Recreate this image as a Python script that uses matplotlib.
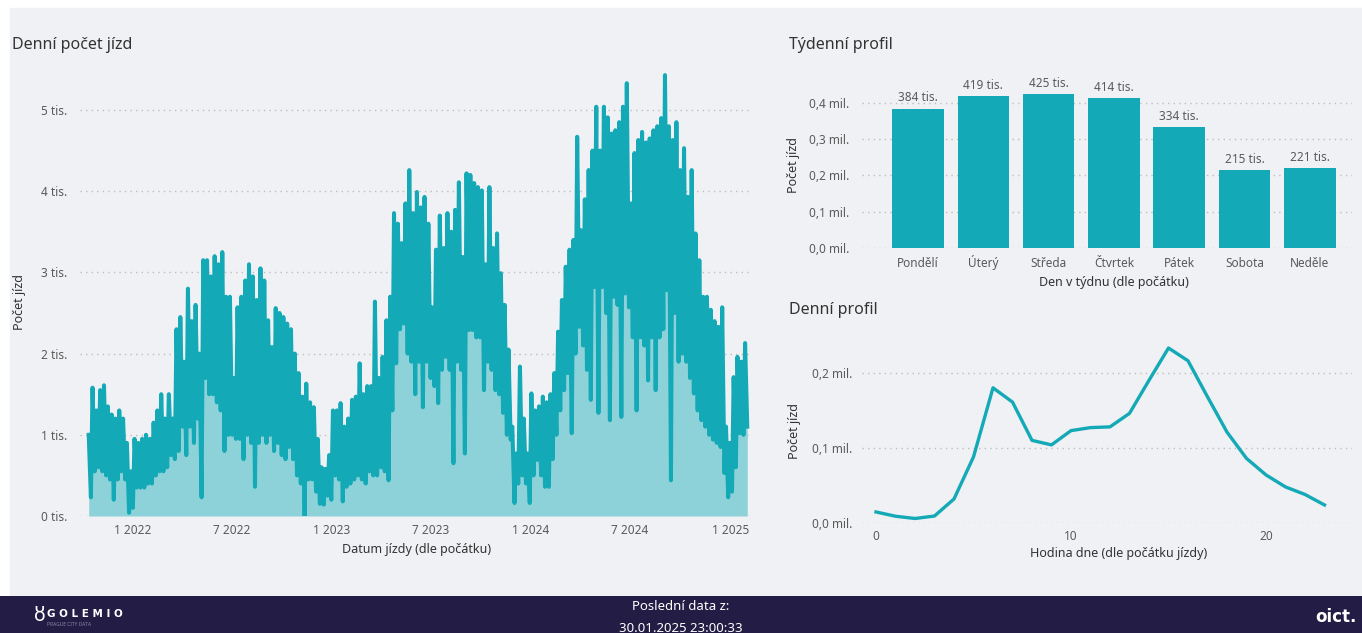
import pandas as pd
import matplotlib
matplotlib.use("Agg")
import matplotlib.pyplot as plt
import matplotlib.dates as mdates
from matplotlib.ticker import FixedLocator, FuncFormatter
from matplotlib.patches import Rectangle

plt.rcParams['font.family'] = ['Noto Sans', 'DejaVu Sans']

# --- data -------------------------------------------------------------
# Denní počet jízd: weekly high (weekday) and low (weekend) in thousands, from 2021-10-11
first_week = "2021-10-11"
week_high_tis = [
    1.0, 1.58, 1.3, 1.55, 1.61, 1.35, 1.25, 1.2, 1.3, 1.2,
    0.9, 0.55, 0.95, 0.9, 0.95, 1.0, 0.95, 1.15, 1.3, 1.5,
    1.2, 1.5, 1.2, 2.3, 2.45, 1.9, 2.8, 2.4, 2.6, 2.0,
    3.15, 3.15, 2.95, 3.2, 3.1, 3.25, 2.7, 2.7, 1.7, 2.57,
    2.7, 2.9, 3.1, 2.95, 2.66, 3.05, 2.9, 2.41, 2.08, 2.56,
    2.5, 2.45, 2.37, 2.3, 2.0, 1.76, 1.47, 1.63, 1.4, 1.34,
    0.95, 0.6, 0.58, 0.75, 1.3, 1.3, 1.39, 1.1, 1.2, 1.43,
    1.47, 1.88, 1.5, 1.6, 1.6, 2.64, 1.7, 1.96, 2.41, 2.7,
    3.73, 3.6, 3.36, 3.85, 4.26, 3.73, 3.99, 3.8, 3.93, 3.6,
    2.57, 3.28, 3.7, 3.3, 3.73, 3.5, 3.77, 4.11, 3.19, 4.22,
    4.2, 4.1, 4.05, 4.01, 3.1, 4.05, 3.3, 3.48, 2.99, 2.6,
    2.05, 1.1, 0.77, 1.84, 1.2, 0.77, 1.51, 1.3, 1.35, 1.47,
    1.4, 1.5, 1.76, 2.27, 2.66, 3.07, 3.28, 3.4, 4.67, 3.52,
    3.9, 4.26, 4.5, 5.04, 4.5, 5.04, 4.91, 4.71, 4.75, 4.85,
    5.04, 5.33, 3.85, 4.47, 4.63, 4.73, 4.6, 4.65, 4.75, 4.8,
    4.9, 5.43, 4.8, 4.63, 4.85, 4.26, 4.53, 3.93, 4.26, 3.48,
    3.15, 2.7, 2.7, 2.54, 2.4, 2.33, 2.57, 1.1, 0.9, 1.71,
    1.96, 1.9, 2.13,
]
week_low_tis = [
    0.23, 0.55, 0.6, 0.55, 0.5, 0.45, 0.2, 0.45, 0.55, 0.45,
    0.04, 0.1, 0.35, 0.35, 0.35, 0.4, 0.4, 0.5, 0.55, 0.55,
    0.6, 0.75, 0.7, 0.8, 1.1, 0.75, 1.1, 0.9, 1.2, 0.23,
    1.7, 1.5, 1.5, 1.4, 1.3, 0.8, 1.0, 1.0, 0.95, 0.95,
    0.7, 1.0, 0.9, 0.36, 0.9, 1.0, 0.9, 1.0, 0.8, 0.9,
    0.75, 0.7, 0.85, 0.7, 0.5, 0.4, 0.0, 0.45, 0.45, 0.3,
    0.15, 0.14, 0.25, 0.2, 0.5, 0.45, 0.18, 0.36, 0.4, 0.45,
    0.5, 0.45, 0.4, 0.55, 0.5, 0.5, 0.6, 0.55, 0.44, 1.3,
    1.88, 2.3, 2.37, 2.0, 1.9, 1.5, 1.9, 1.34, 1.9, 1.7,
    1.6, 1.39, 1.8, 1.96, 1.8, 0.65, 1.9, 1.8, 0.77, 2.29,
    2.29, 2.2, 2.2, 1.55, 1.9, 1.8, 1.55, 1.5, 1.27, 1.0,
    0.94, 0.16, 0.4, 0.5, 0.4, 0.16, 0.5, 0.69, 0.5, 0.36,
    0.36, 0.7, 1.0, 1.3, 1.55, 1.76, 1.02, 2.0, 2.33, 2.1,
    1.8, 1.43, 2.82, 1.27, 2.82, 2.5, 1.18, 2.7, 2.6, 1.22,
    2.74, 2.57, 2.2, 1.3, 2.2, 2.1, 1.67, 2.2, 1.55, 2.2,
    2.3, 2.78, 0.44, 2.5, 1.9, 2.0, 1.9, 1.7, 1.51, 1.3,
    1.18, 1.1, 1.0, 0.94, 0.9, 0.85, 0.53, 0.23, 0.3, 0.6,
    1.02, 1.0, 1.1,
]

# Týdenní profil (tis.)
days = ["Pondělí", "Úterý", "Středa", "Čtvrtek", "Pátek", "Sobota", "Neděle"]
day_tis = [384, 419, 425, 414, 334, 215, 221]

# Denní profil: rides by hour (tis.)
hours = list(range(24))
hour_tis = [14.7, 9, 6, 9.3, 32, 88, 180, 161, 110, 104, 123, 127,
            128, 146, 190, 233, 216, 168, 121, 86, 64, 48, 38, 24]

# --- style ------------------------------------------------------------
W, H = 1362, 633
BG = "#eff1f4"
TEAL = "#13a9b6"
FILL = "#8ed2d9"
TXT = "#333333"
TICK = "#5a5a5a"
GRID = "#bdbdbd"


def cz(v, d=1):
    return f"{v:.{d}f}".replace(".", ",")


def px_axes(l, r, b, t):
    # pixel box -> figure fraction
    return fig.add_axes([l / W, (H - b) / H, (r - l) / W, (b - t) / H])


def style(ax):
    ax.set_facecolor("none")
    for s in ax.spines.values():
        s.set_visible(False)
    ax.tick_params(length=0, colors=TICK, labelsize=8.5)
    ax.grid(axis="y", linestyle=(0, (1, 3)), color=GRID, linewidth=1)
    ax.set_axisbelow(True)


fig = plt.figure(figsize=(W / 100, H / 100), dpi=100, facecolor="white")
fig.patches.append(Rectangle((10 / W, 37 / H), 1 - 10 / W, (596 - 8) / H,
                             transform=fig.transFigure, color=BG, zorder=-10))

# --- Denní počet jízd ---------------------------------------------------
wk = pd.date_range(first_week, periods=len(week_high_tis), freq="7D")
dates, vals = [], []
for d, hi, lo in zip(wk, week_high_tis, week_low_tis):
    dates += [d + pd.Timedelta(days=1), d + pd.Timedelta(days=5)]
    vals += [hi, lo]

ax1 = px_axes(80, 750, 516, 69.4)
style(ax1)
ax1.fill_between(dates, vals, 0, color=FILL, linewidth=0)
ax1.plot(dates, vals, color=TEAL, linewidth=2.9, solid_joinstyle="round")
ax1.set_xlim(pd.Timestamp("2021-09-26"), pd.Timestamp("2025-02-06"))
ax1.set_ylim(0, 5.5)
ax1.yaxis.set_major_locator(FixedLocator([0, 1, 2, 3, 4, 5]))
ax1.yaxis.set_major_formatter(FuncFormatter(lambda v, p: f"{int(round(v))} tis."))
ax1.xaxis.set_major_locator(mdates.MonthLocator(bymonth=[1, 7]))
ax1.xaxis.set_major_formatter(FuncFormatter(
    lambda v, p: f"{mdates.num2date(v).month} {mdates.num2date(v).year}"))
ax1.tick_params(axis="y", pad=9)
ax1.tick_params(axis="x", pad=6)
ax1.set_xlabel("Datum jízdy (dle počátku)", color=TXT, fontsize=9)
ax1.xaxis.set_label_coords(0.503, -0.075)
ax1.xaxis.label.set_va("center")
ax1.set_ylabel("Počet jízd", color=TXT, fontsize=9)
ax1.yaxis.set_label_coords(-0.09, 0.48)
ax1.yaxis.label.set_va("center")
fig.text(12 / W, 1 - 45 / H, "Denní počet jízd", fontsize=11.5, color=TXT, va="center")

# --- Týdenní profil -----------------------------------------------------
ax2 = px_axes(862, 1352, 248, 77.6)
style(ax2)
xs = list(range(len(days)))
ax2.bar(xs, day_tis, width=0.79, color=TEAL)
for x, v in zip(xs, day_tis):
    ax2.text(x, v + 12, f"{v} tis.", ha="center", va="bottom", fontsize=8.5, color=TICK)
ax2.set_xlim(-0.858, 6.646)
ax2.set_ylim(0, 470)
ax2.yaxis.set_major_locator(FixedLocator([0, 100, 200, 300, 400]))
ax2.yaxis.set_major_formatter(FuncFormatter(lambda v, p: f"{cz(v / 1000)} mil."))
ax2.set_xticks(xs)
ax2.set_xticklabels(days)
for lab in ax2.get_xticklabels():
    lab.set_va("baseline")
ax2.tick_params(axis="y", pad=9)
ax2.tick_params(axis="x", pad=14)
ax2.set_xlabel("Den v týdnu (dle počátku)", color=TXT, fontsize=9)
ax2.xaxis.set_label_coords(0.514, -0.205)
ax2.xaxis.label.set_va("center")
ax2.set_ylabel("Počet jízd", color=TXT, fontsize=9)
ax2.yaxis.set_label_coords(-0.14, 0.49)
ax2.yaxis.label.set_va("center")
fig.text(789 / W, 1 - 45 / H, "Týdenní profil", fontsize=11.5, color=TXT, va="center")

# --- Denní profil -------------------------------------------------------
ax3 = px_axes(862, 1352, 523, 339)
style(ax3)
ax3.plot(hours, hour_tis, color=TEAL, linewidth=2.4)
ax3.set_xlim(-0.718, 24.41)
ax3.set_ylim(0, 245)
ax3.yaxis.set_major_locator(FixedLocator([0, 100, 200]))
ax3.yaxis.set_major_formatter(FuncFormatter(lambda v, p: f"{cz(v / 1000)} mil."))
ax3.xaxis.set_major_locator(FixedLocator([0, 10, 20]))
ax3.tick_params(axis="y", pad=7)
ax3.tick_params(axis="x", pad=5)
ax3.set_xlabel("Hodina dne (dle počátku jízdy)", color=TXT, fontsize=9)
ax3.xaxis.set_label_coords(0.524, -0.165)
ax3.xaxis.label.set_va("center")
ax3.set_ylabel("Počet jízd", color=TXT, fontsize=9)
ax3.yaxis.set_label_coords(-0.137, 0.5)
ax3.yaxis.label.set_va("center")
fig.text(789 / W, 1 - 310 / H, "Denní profil", fontsize=11.5, color=TXT, va="center")

# --- footer -------------------------------------------------------------
fax = fig.add_axes([0, 0, 1, 37 / H])
fax.set_facecolor("#231d45")
fax.set_xticks([])
fax.set_yticks([])
for s in fax.spines.values():
    s.set_visible(False)
fax.set_xlim(0, W)
fax.set_ylim(37, 0)
fax.text(681, 11, "Poslední data z:", color="white", fontsize=9.5, ha="center", va="center")
fax.text(681, 33, "30.01.2025 23:00:33", color="white", fontsize=9.5, ha="center", va="center")
fax.text(1336, 21, "oict.", color="white", fontsize=12, ha="center", va="center",
         weight="bold", family="DejaVu Sans")
fax.text(47, 18, "G O L E M I O", color="white", fontsize=7.5, ha="left", va="center",
         weight="bold", family="DejaVu Sans")
fax.text(47, 29, "PRAGUE CITY DATA", color="#8a86a8", fontsize=3.5, ha="left", va="center")
fax.text(40, 20, "ȣ", color="white", fontsize=14, ha="center", va="center")

fig.savefig("out.png", dpi=100, facecolor=fig.get_facecolor())
